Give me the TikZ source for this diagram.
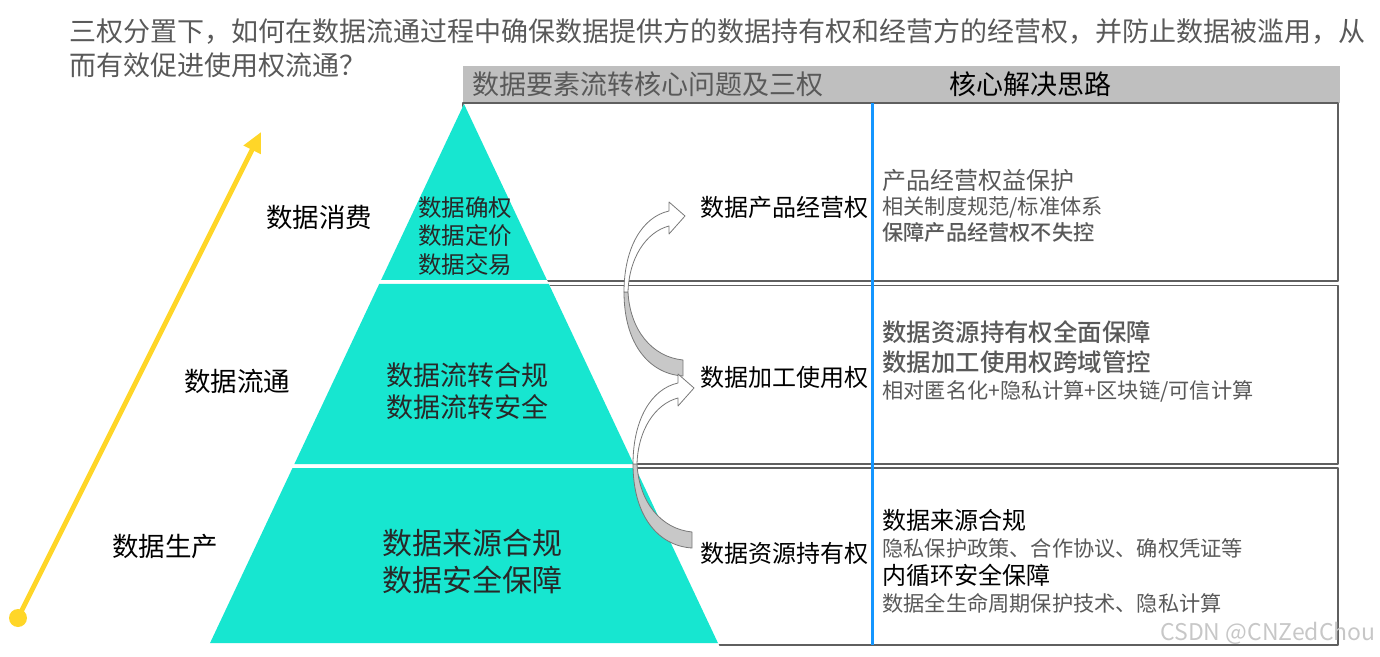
\documentclass[tikz,border=0pt]{standalone}
\usepackage{fontspec}
\setmainfont{Noto Sans CJK SC}[BoldFont={Noto Sans CJK SC Medium}]
\usetikzlibrary{arrows.meta}
\definecolor{pyrteal}{RGB}{23,230,208}
\definecolor{hdrgray}{RGB}{191,191,191}
\definecolor{txtgray}{RGB}{89,89,89}
\definecolor{linegray}{RGB}{95,95,95}
\definecolor{splitblue}{RGB}{20,150,255}
\definecolor{riseyellow}{RGB}{255,214,40}
\definecolor{bendgray}{RGB}{200,200,200}
\definecolor{bendline}{RGB}{120,120,120}
\definecolor{pyrtext}{RGB}{40,40,40}
\begin{document}
\begin{tikzpicture}[x=0.5pt,y=-0.5pt, line join=round, line cap=round]
		\tikzset{txt/.style={inner sep=0pt, anchor=west},
			rowbox/.style={draw=linegray, line width=0.65pt},
			bendface/.style={fill=white, draw=bendline, line width=0.4pt},
			bendshade/.style={fill=bendgray, draw=bendline, line width=0.4pt}}
		\def\fsbig{\fontsize{13.5}{16}\selectfont}
		\def\fsmid{\fontsize{12}{14}\selectfont}
		\def\fssmall{\fontsize{10.6}{13}\selectfont}
		\useasboundingbox (0,0) rectangle (1380,657);
		% question on top
		\node[txt, text=txtgray, font=\fsbig] (title1) at (69,32) {三权分置下，如何在数据流通过程中确保数据提供方的数据持有权和经营方的经营权，并防止数据被滥用，从};
		\node[txt, text=txtgray, font=\fsbig] (title2) at (69,65) {而有效促进使用权流通？};
		% table
		\fill[hdrgray] (463,66) rectangle (1340,103);
		\node[txt, text=txtgray, font=\fsbig] (hdrleft) at (472,84) {数据要素流转核心问题及三权};
		\node[inner sep=0pt, font=\fsbig] (hdrright) at (1030,84) {核心解决思路};
		\draw[rowbox] (463,103) rectangle (1338,281);
		\draw[rowbox] (463,285.5) rectangle (1338,464);
		\draw[rowbox] (463,468) rectangle (1338,645);
		\coordinate (splittop) at (872,103);
		\coordinate (splitbot) at (872,645);
		\draw[splitblue, line width=1.5pt, line cap=butt] (splittop) -- (splitbot);
		% pyramid
		\coordinate (apex) at (464,104);
		\coordinate (bl) at (207.7,648);
		\coordinate (br) at (720.3,648);
		\begin{scope}
		\clip (apex) -- (bl) -- (br) -- cycle;
		\fill[white] (200,100) rectangle (730,650);
		\fill[pyrteal] (200,100) rectangle (730,280) (200,284) rectangle (730,464) (200,468) rectangle (730,643);
		\end{scope}
		\node[inner sep=0pt, align=center, text=pyrtext, font=\fontsize{11.75}{14.25}\selectfont] (pyrtop) at (465,236) {数据确权\\数据定价\\数据交易};
		\node[inner sep=0pt, align=center, text=pyrtext, font=\fontsize{13.5}{16}\selectfont] (pyrmid) at (467,391) {数据流转合规\\数据流转安全};
		\node[inner sep=0pt, align=center, text=pyrtext, font=\fontsize{15}{18.5}\selectfont] (pyrbot) at (472,561.5) {数据来源合规\\数据安全保障};
		% stages and rising arrow
		\node[inner sep=0pt, font=\fontsize{13.25}{16}\selectfont] (consume) at (319,217) {数据消费};
		\node[inner sep=0pt, font=\fontsize{13.25}{16}\selectfont] (circulate) at (237,381) {数据流通};
		\node[inner sep=0pt, font=\fontsize{13.25}{16}\selectfont] (produce) at (165,547) {数据生产};
		\coordinate (risestart) at (18,618);
		\coordinate (riseend) at (261,132);
		\draw[riseyellow, line width=2.4pt, -{Triangle[length=10pt,width=9pt]}] (risestart) -- (riseend);
		\fill[riseyellow] (risestart) circle (9);
		% bent block arrows
		\foreach \dx/\dy in {0/0, 9/172}{
		\begin{scope}[shift={(\dx,\dy)}]
		\filldraw[bendshade] (624,292) .. controls (624,345) and (650,374) .. (683,376) -- (683,360) .. controls (652,357) and (630,330) .. (628,292) -- cycle;
		\filldraw[bendface] (624,292) .. controls (624,248) and (642,217) .. (669,211) -- (669,202) -- (685,216) -- (669,234) -- (669,226) .. controls (646,232) and (629,258) .. (628,292) -- cycle;
		\end{scope}
		}
		% rights
		\node[txt, font=\fsmid] (product) at (700,207) {数据产品经营权};
		\node[txt, font=\fsmid] (process) at (700,377) {数据加工使用权};
		\node[txt, font=\fsmid] (resource) at (700,553) {数据资源持有权};
		% solutions
		\node[txt, text=txtgray, font=\fsmid] (solA1) at (882,180) {产品经营权益保护};
		\node[txt, text=txtgray, font=\fssmall] (solA2) at (882,207) {相关制度规范/标准体系};
		\node[txt, text=txtgray, font=\fssmall\bfseries] (solA3) at (882,232) {保障产品经营权不失控};
		\node[txt, text=txtgray, font=\fontsize{12.2}{14}\selectfont\bfseries] (solB1) at (882,332) {数据资源持有权全面保障};
		\node[txt, text=txtgray, font=\fontsize{12.2}{14}\selectfont\bfseries] (solB2) at (882,362) {数据加工使用权跨域管控};
		\node[txt, text=txtgray, font=\fssmall] (solB3) at (882,391) {相对匿名化+隐私计算+区块链/可信计算};
		\node[txt, font=\fsmid] (solC1) at (882,520) {数据来源合规};
		\node[txt, text=txtgray, font=\fssmall] (solC2) at (882,548) {隐私保护政策、合作协议、确权凭证等};
		\node[txt, font=\fsmid] (solC3) at (882,575) {内循环安全保障};
		\node[txt, text=txtgray, font=\fssmall] (solC4) at (882,603) {数据全生命周期保护技术、隐私计算};
		\node[inner sep=0pt, anchor=east, text=black!22, font=\fontsize{11.5}{14}\selectfont] (mark) at (1376,633) {CSDN @CNZedChou};
\end{tikzpicture}
\end{document}
